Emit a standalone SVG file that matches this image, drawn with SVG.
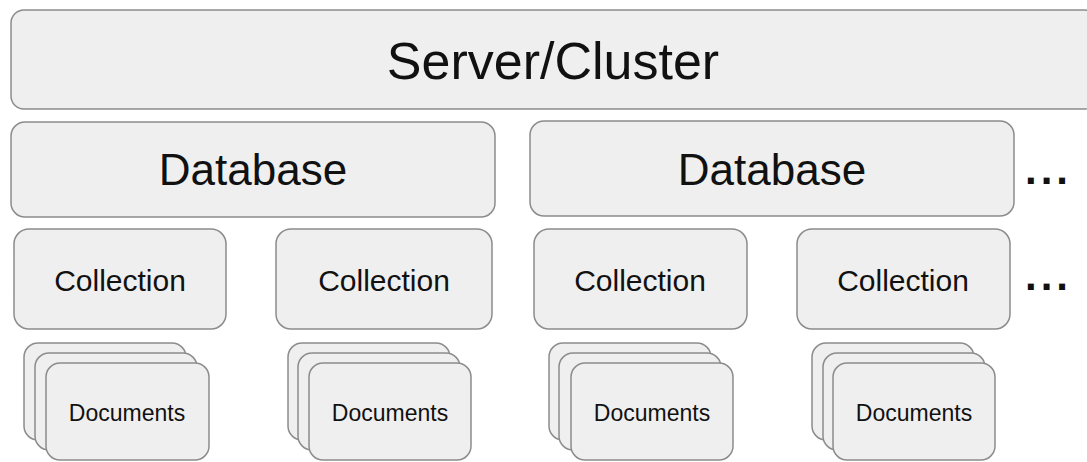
<svg xmlns="http://www.w3.org/2000/svg" width="1087" height="462" viewBox="0 0 1087 462">
<style>
.box{fill:#efefef;stroke:#8c8c8c;stroke-width:1.5}
.t{font-family:"Liberation Sans",Arial,sans-serif;fill:#111;text-anchor:middle}
.dots{font-family:"Liberation Sans",Arial,sans-serif;font-weight:bold;fill:#111;font-size:42px;letter-spacing:4px}
</style>
<rect width="1087" height="462" fill="#ffffff"/>
<g id="server">
<rect class="box" x="11" y="10" width="1086" height="99" rx="13"/>
<text class="t" x="553" y="79" font-size="52">Server/Cluster</text>
</g>
<g id="db1">
<rect class="box" x="11" y="122" width="484" height="95" rx="14"/>
<text class="t" x="253" y="185" font-size="44">Database</text>
</g>
<g id="db2">
<rect class="box" x="530" y="121" width="484" height="95" rx="14"/>
<text class="t" x="772" y="185" font-size="44">Database</text>
</g>
<g id="dots1"><text class="dots" x="1025" y="184">...</text></g>
<g id="col1">
<rect class="box" x="14" y="229" width="212" height="100" rx="15"/>
<text class="t" x="120" y="291" font-size="30">Collection</text>
</g>
<g id="col2">
<rect class="box" x="276" y="229" width="216" height="100" rx="15"/>
<text class="t" x="384" y="291" font-size="30">Collection</text>
</g>
<g id="col3">
<rect class="box" x="534" y="229" width="213" height="100" rx="15"/>
<text class="t" x="640" y="291" font-size="30">Collection</text>
</g>
<g id="col4">
<rect class="box" x="797" y="229" width="213" height="100" rx="15"/>
<text class="t" x="903" y="291" font-size="30">Collection</text>
</g>
<g id="dots2"><text class="dots" x="1025" y="290">...</text></g>
<g id="docs1">
<rect class="box" x="24" y="343" width="162" height="97" rx="14"/>
<rect class="box" x="35" y="353" width="162" height="97" rx="14"/>
<rect class="box" x="46" y="363" width="163" height="97" rx="14"/>
<text class="t" x="127" y="421" font-size="23">Documents</text>
</g>
<g id="docs2">
<rect class="box" x="288" y="343" width="162" height="97" rx="14"/>
<rect class="box" x="298" y="353" width="162" height="97" rx="14"/>
<rect class="box" x="309" y="363" width="162" height="97" rx="14"/>
<text class="t" x="390" y="421" font-size="23">Documents</text>
</g>
<g id="docs3">
<rect class="box" x="549" y="343" width="162" height="97" rx="14"/>
<rect class="box" x="559" y="353" width="162" height="97" rx="14"/>
<rect class="box" x="571" y="363" width="162" height="97" rx="14"/>
<text class="t" x="652" y="421" font-size="23">Documents</text>
</g>
<g id="docs4">
<rect class="box" x="812" y="343" width="162" height="97" rx="14"/>
<rect class="box" x="823" y="353" width="162" height="97" rx="14"/>
<rect class="box" x="833" y="363" width="162" height="97" rx="14"/>
<text class="t" x="914" y="421" font-size="23">Documents</text>
</g>
<g id="connectors"/>
</svg>
